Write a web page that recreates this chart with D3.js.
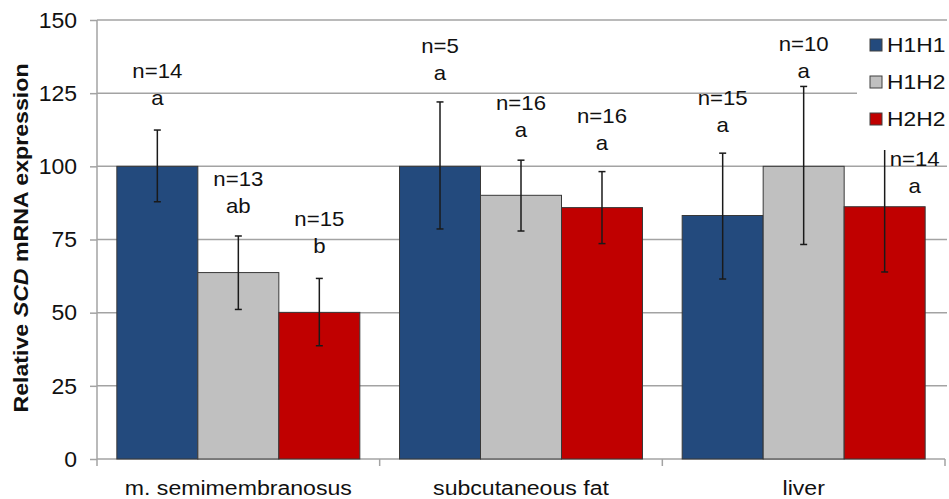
<!DOCTYPE html>
<html>
<head>
<meta charset="utf-8">
<script src="https://cdn.jsdelivr.net/npm/d3@7"></script>
<style>
  html, body { margin: 0; padding: 0; background: #fff; }
  svg { display: block; font-family: "Liberation Sans", Arial, sans-serif; }
</style>
</head>
<body>
<svg id="chart" width="949" height="499"></svg>
<script>
// ---------- data ----------
const categories = ["m. semimembranosus", "subcutaneous fat", "liver"];
const seriesNames = ["H1H1", "H1H2", "H2H2"];
const h1h1 = [100, 100, 83.2];
const h1h2 = [63.7, 90.1, 100];
const h2h2 = [50.1, 85.9, 86.2];
const h1h1Low  = [87.9, 78.6, 61.5];
const h1h1High = [112.4, 122.0, 104.5];
const h1h2Low  = [51.1, 77.9, 73.3];
const h1h2High = [76.2, 102.1, 127.3];
const h2h2Low  = [38.7, 73.6, 63.9];
const h2h2High = [61.7, 98.2, 108.3];
const h1h1N = [14, 5, 15];
const h1h2N = [13, 16, 10];
const h2h2N = [15, 16, 14];
const h1h1Sig = ["a", "a", "a"];
const h1h2Sig = ["ab", "a", "a"];
const h2h2Sig = ["b", "a", "a"];
// label anchor (baseline of significance letter), in chart units
const h1h1LabelAt = [121.0, 129.5, 111.8];
const h1h2LabelAt = [84.0, 109.9, 130.1];
const h2h2LabelAt = [70.3, 105.6, 90.9];
const yTicks = [0, 25, 50, 75, 100, 125, 150];

const series = [
  { name: seriesNames[0], vals: h1h1, lo: h1h1Low, hi: h1h1High, n: h1h1N, sig: h1h1Sig, lab: h1h1LabelAt },
  { name: seriesNames[1], vals: h1h2, lo: h1h2Low, hi: h1h2High, n: h1h2N, sig: h1h2Sig, lab: h1h2LabelAt },
  { name: seriesNames[2], vals: h2h2, lo: h2h2Low, hi: h2h2High, n: h2h2N, sig: h2h2Sig, lab: h2h2LabelAt }
];

// ---------- styles / layout ----------
const colors = { H1H1: "#234a7d", H1H2: "#c0c0c0", H2H2: "#c00000" };
const gridColor = "#a3a3a3";
const mLeft = 97, mRight = 945, mTop = 20, mBottom = 459;
// per-label horizontal shift (px) where the original label was moved aside
const labelShift = [[0, 0, 0], [0, 0, 0], [0, 0, 30]];

const svg = d3.select("#chart");

const x = d3.scaleBand().domain(categories).range([mLeft, mRight]).paddingInner(0).paddingOuter(0);
const xs = d3.scaleBand().domain(seriesNames).range([0, x.bandwidth()]).paddingInner(0).paddingOuter(0.245);
const y = d3.scaleLinear().domain([0, 150]).range([mBottom, mTop]);

// helper: horizontally stretched text
function stext(g, px, py, str, size, sx, anchor, weight) {
  const t = g.append("text")
    .attr("transform", `translate(${px},${py}) scale(${sx},1)`)
    .attr("text-anchor", anchor || "middle")
    .attr("font-size", size)
    .attr("fill", "#111");
  if (weight) t.attr("font-weight", weight);
  t.text(str);
  return t;
}

// gridlines
svg.append("g").selectAll("line").data(yTicks.filter(d => d > 0)).join("line")
  .attr("x1", mLeft).attr("x2", mRight + 2)
  .attr("y1", d => y(d)).attr("y2", d => y(d))
  .attr("stroke", gridColor).attr("stroke-width", 1.5);

// y axis
const yAxis = d3.axisLeft(y).tickValues(yTicks).tickSize(7).tickPadding(0).tickFormat(d3.format("d"));
const gy = svg.append("g").attr("transform", `translate(${mLeft},0)`).call(yAxis);
gy.select(".domain").attr("stroke", gridColor).attr("stroke-width", 1.5).attr("d", `M0,${mBottom}V${mTop}`);
gy.selectAll(".tick line").attr("stroke", gridColor).attr("stroke-width", 1.5);
gy.selectAll(".tick text").remove();
yTicks.forEach(v => {
  stext(svg, 77, y(v) + 7.8, String(v), 21.5, 1.07, "end");
});

// x axis
const gx = svg.append("g").attr("transform", `translate(0,${mBottom})`);
gx.append("line").attr("x1", mLeft).attr("x2", mRight).attr("y1", 0).attr("y2", 0)
  .attr("stroke", gridColor).attr("stroke-width", 1.5);
const bounds = categories.map(c => x(c)).concat([x(categories[categories.length - 1]) + x.bandwidth()]);
gx.selectAll("line.tk").data(bounds).join("line").attr("class", "tk")
  .attr("x1", d => d).attr("x2", d => d).attr("y1", 0).attr("y2", 7)
  .attr("stroke", gridColor).attr("stroke-width", 1.5);
categories.forEach(c => {
  stext(svg, x(c) + x.bandwidth() / 2, 494.5, c, 21, 1.1, "middle");
});

// bars
series.forEach(s => {
  const g = svg.append("g");
  g.selectAll("rect").data(categories).join("rect")
    .attr("x", c => x(c) + xs(s.name))
    .attr("y", (c, i) => y(s.vals[i]))
    .attr("width", xs.bandwidth())
    .attr("height", (c, i) => y(0) - y(s.vals[i]))
    .attr("fill", colors[s.name])
    .attr("stroke", "#383838").attr("stroke-width", 1);
});

// error bars
series.forEach(s => {
  const g = svg.append("g").attr("stroke", "#1a1a1a").attr("stroke-width", 1.5);
  categories.forEach((c, i) => {
    const cx = x(c) + xs(s.name) + xs.bandwidth() / 2;
    g.append("line").attr("x1", cx).attr("x2", cx).attr("y1", y(s.lo[i])).attr("y2", y(s.hi[i]));
    g.append("line").attr("x1", cx - 3.5).attr("x2", cx + 3.5).attr("y1", y(s.lo[i])).attr("y2", y(s.lo[i]));
    g.append("line").attr("x1", cx - 3.5).attr("x2", cx + 3.5).attr("y1", y(s.hi[i])).attr("y2", y(s.hi[i]));
  });
});

// legend (white box covering gridlines)
svg.append("rect").attr("x", 857).attr("y", 26).attr("width", 92).attr("height", 124).attr("fill", "#fff");
seriesNames.forEach((nm, i) => {
  const cy = 45 + i * 37;
  svg.append("rect").attr("x", 870).attr("y", cy - 6).attr("width", 12).attr("height", 12)
    .attr("fill", colors[nm]).attr("stroke", "#404040").attr("stroke-width", 1);
  stext(svg, 887, cy + 7.2, nm, 19.5, 1.17, "start");
});

// labels
series.forEach((s, si) => {
  categories.forEach((c, i) => {
    const cx = x(c) + xs(s.name) + xs.bandwidth() / 2 + labelShift[i][si];
    const by = y(s.lab[i]);
    stext(svg, cx, by - 27, "n=" + s.n[i], 20, 1.11, "middle");
    stext(svg, cx, by, s.sig[i], 20, 1.11, "middle");
  });
});

// y axis title
const title = svg.append("text")
  .attr("transform", `translate(27.5,238) rotate(-90) scale(1.13,1)`)
  .attr("text-anchor", "middle")
  .attr("font-size", 20.5)
  .attr("font-weight", "bold")
  .attr("fill", "#111");
title.append("tspan").text("Relative ");
title.append("tspan").attr("font-style", "italic").text("SCD");
title.append("tspan").text(" mRNA expression");
</script>
</body>
</html>
